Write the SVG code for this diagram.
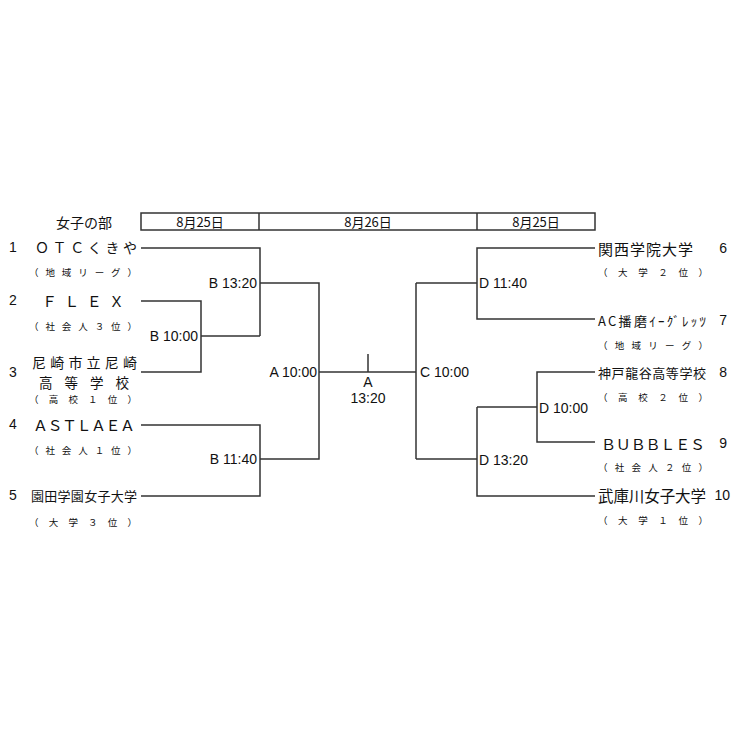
<svg xmlns="http://www.w3.org/2000/svg" width="737" height="737" viewBox="0 0 737 737">
<style>
.ln{fill:none;stroke:#333;stroke-width:1.5}
.jp{font-family:"Noto Sans CJK JP","Noto Sans",sans-serif;fill:#111;dominant-baseline:central}
.lb{font-family:"Liberation Sans",Arial,sans-serif;font-size:14px;fill:#111;dominant-baseline:central}
.nm{font-size:14px}
.sb{font-size:9.5px}
.hd{font-family:"Noto Sans CJK JP",sans-serif;font-size:13px;fill:#111;dominant-baseline:central;text-anchor:middle}
</style>
<rect width="737" height="737" fill="#fff"/>
<g id="header">
<text class="jp" x="84" y="222" font-size="14" text-anchor="middle">女子の部</text>
<rect class="ln" x="141" y="213" width="454" height="17"/>
<line class="ln" x1="259" y1="213" x2="259" y2="230"/>
<line class="ln" x1="477" y1="213" x2="477" y2="230"/>
<text class="hd" x="200" y="221">8月25日</text>
<text class="hd" x="368" y="221">8月26日</text>
<text class="hd" x="536" y="221">8月25日</text>
</g>
<g id="connectors">
<path class="ln" d="M141 248H260V336"/>
<path class="ln" d="M141 301H201V372H141"/>
<path class="ln" d="M201 336H260"/>
<path class="ln" d="M260 283H319V459H260"/>
<path class="ln" d="M141 425H260V496H141"/>
<path class="ln" d="M319 372H416"/>
<path class="ln" d="M368 354V372"/>
<path class="ln" d="M416 283V459"/>
<path class="ln" d="M416 283H477"/>
<path class="ln" d="M595 248H477V319H595"/>
<path class="ln" d="M416 459H477"/>
<path class="ln" d="M477 407V496H595"/>
<path class="ln" d="M477 407H537"/>
<path class="ln" d="M595 372H537V442H595"/>
</g>
<g id="team1">
<text class="lb" x="9" y="247">1</text>
<text class="jp nm" x="35" y="247" textLength="102" lengthAdjust="spacing">ＯＴＣくきや</text>
<text class="jp sb" x="29" y="272" textLength="108" lengthAdjust="spacing">（地域リーグ）</text>
</g>
<g id="team2">
<text class="lb" x="9" y="300">2</text>
<text class="jp" font-size="15" x="42" y="300" textLength="82" lengthAdjust="spacing">ＦＬＥＸ</text>
<text class="jp sb" x="29" y="326" textLength="108" lengthAdjust="spacing">（社会人３位）</text>
</g>
<g id="team3">
<text class="lb" x="9" y="372">3</text>
<text class="jp" font-size="14" x="32" y="362" textLength="105" lengthAdjust="spacing">尼崎市立尼崎</text>
<text class="jp" font-size="13.5" x="39" y="382" textLength="90" lengthAdjust="spacing">高等学校</text>
<text class="jp sb" x="29" y="399" textLength="108" lengthAdjust="spacing">（高校１位）</text>
</g>
<g id="team4">
<text class="lb" x="9" y="424">4</text>
<text class="jp" font-size="15" x="33" y="424" textLength="102" lengthAdjust="spacing">ＡＳＴＬＡＥＡ</text>
<text class="jp sb" x="29" y="450" textLength="108" lengthAdjust="spacing">（社会人１位）</text>
</g>
<g id="team5">
<text class="lb" x="9" y="495">5</text>
<text class="jp" font-size="13" x="31" y="495" textLength="106" lengthAdjust="spacing">園田学園女子大学</text>
<text class="jp sb" x="29" y="522" textLength="108" lengthAdjust="spacing">（大学３位）</text>
</g>
<g id="team6">
<text class="jp" font-size="15" x="598" y="248" textLength="95" lengthAdjust="spacing">関西学院大学</text>
<text class="lb" x="727" y="248" text-anchor="end">6</text>
<text class="jp sb" x="598" y="272" textLength="110" lengthAdjust="spacing">（大学２位）</text>
</g>
<g id="team7">
<text class="jp" font-size="13" x="598" y="320" textLength="108" lengthAdjust="spacing">AC播磨ｲｰｸﾞﾚｯﾂ</text>
<text class="lb" x="727" y="320" text-anchor="end">7</text>
<text class="jp sb" x="598" y="345" textLength="110" lengthAdjust="spacing">（地域リーグ）</text>
</g>
<g id="team8">
<text class="jp" font-size="13" x="598" y="372" textLength="108" lengthAdjust="spacing">神戸龍谷高等学校</text>
<text class="lb" x="727" y="372" text-anchor="end">8</text>
<text class="jp sb" x="598" y="397" textLength="110" lengthAdjust="spacing">（高校２位）</text>
</g>
<g id="team9">
<text class="jp" font-size="15" x="601" y="443" textLength="104" lengthAdjust="spacing">ＢＵＢＢＬＥＳ</text>
<text class="lb" x="727" y="443" text-anchor="end">9</text>
<text class="jp sb" x="598" y="467" textLength="110" lengthAdjust="spacing">（社会人２位）</text>
</g>
<g id="team10">
<text class="jp" font-size="15.5" x="598" y="495" textLength="108" lengthAdjust="spacing">武庫川女子大学</text>
<text class="lb" x="730" y="495" text-anchor="end">10</text>
<text class="jp sb" x="598" y="520" textLength="110" lengthAdjust="spacing">（大学１位）</text>
</g>
<g id="match-b1320"><text class="lb" x="257" y="283" text-anchor="end">B 13:20</text></g>
<g id="match-b1000"><text class="lb" x="198" y="336" text-anchor="end">B 10:00</text></g>
<g id="match-a1000"><text class="lb" x="317" y="372" text-anchor="end">A 10:00</text></g>
<g id="match-b1140"><text class="lb" x="257" y="459" text-anchor="end">B 11:40</text></g>
<g id="final"><text class="lb" x="368" y="382" text-anchor="middle">A</text><text class="lb" x="368" y="398" text-anchor="middle">13:20</text></g>
<g id="match-c1000"><text class="lb" x="420" y="372">C 10:00</text></g>
<g id="match-d1140"><text class="lb" x="479" y="283">D 11:40</text></g>
<g id="match-d1000"><text class="lb" x="539" y="408">D 10:00</text></g>
<g id="match-d1320"><text class="lb" x="479" y="460">D 13:20</text></g>
</svg>
